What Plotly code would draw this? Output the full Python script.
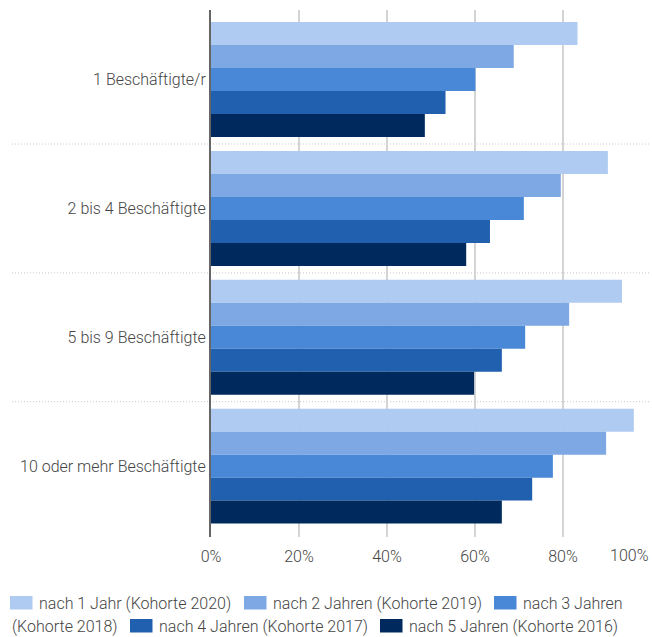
import plotly.graph_objects as go

categories = ["1 Beschäftigte/r", "2 bis 4 Beschäftigte", "5 bis 9 Beschäftigte", "10 oder mehr Beschäftigte"]
series_names = [
    "nach 1 Jahr (Kohorte 2020)",
    "nach 2 Jahren (Kohorte 2019)",
    "nach 3 Jahren (Kohorte 2018)",
    "nach 4 Jahren (Kohorte 2017)",
    "nach 5 Jahren (Kohorte 2016)",
]
nach_1_jahr = [83.3, 90.2, 93.4, 96.1]
nach_2_jahren = [68.8, 79.5, 81.4, 89.8]
nach_3_jahren = [60.1, 71.1, 71.4, 77.7]
nach_4_jahren = [53.3, 63.4, 66.1, 73.0]
nach_5_jahren = [48.6, 58.0, 59.8, 66.1]
series_values = [nach_1_jahr, nach_2_jahren, nach_3_jahren, nach_4_jahren, nach_5_jahren]
colors = ["#b0cbf2", "#7ea8e3", "#4888d6", "#2060ae", "#002a5d"]
tick_vals = [0, 20, 40, 60, 80, 100]
tick_text = ["0%", "20%", "40%", "60%", "80%", "100%"]

W, H = 652, 637
ML, MR, MT, MB = 211, 1, 10, 100
PW, PH = W - ML - MR, H - MT - MB

def px(x):
    return (x - ML) / PW

def py(y):
    return (H - MB - y) / PH

FONT = "Roboto, Arial, sans-serif"
TXT = "#444444"
FS = 16
FW = 300

def f():
    return dict(family=FONT, size=FS, color=TXT, weight=FW)

fig = go.Figure()
for name, vals, col in zip(series_names, series_values, colors):
    fig.add_trace(go.Bar(
        y=categories, x=vals, name=name, orientation="h",
        marker=dict(color=col, line=dict(width=0)),
        showlegend=False, hoverinfo="x+name",
    ))

shapes = []
# dotted category separators
for i in range(len(categories) - 1):
    shapes.append(dict(type="line", xref="paper", yref="y",
                       x0=px(12), x1=px(651), y0=i + 0.5, y1=i + 0.5,
                       line=dict(color="#c8c8c8", width=1, dash="1px,2px"), layer="below"))

annotations = [dict(text="100%", xref="paper", yref="paper", x=1.0, y=py(555),
                    xanchor="right", yanchor="middle", showarrow=False, font=f())]

# custom legend (wrapping like the reference)
legend_items = [
    (0, 10, 603, series_names[0]),
    (1, 244, 603, series_names[1]),
    (2, 494, 603, "nach 3 Jahren"),
    (3, 130, 626, series_names[3]),
    (4, 380, 626, series_names[4]),
]
for idx, x0, yc, label in legend_items:
    shapes.append(dict(type="rect", xref="paper", yref="paper",
                       x0=px(x0), x1=px(x0 + 22.5), y0=py(yc - 7), y1=py(yc + 6.5),
                       fillcolor=colors[idx], line=dict(width=0)))
    annotations.append(dict(text=label, xref="paper", yref="paper",
                            x=px(x0 + 27), y=py(yc), xanchor="left", yanchor="middle",
                            showarrow=False, font=f()))
annotations.append(dict(text="(Kohorte 2018)", xref="paper", yref="paper",
                        x=px(10), y=py(626), xanchor="left", yanchor="middle",
                        showarrow=False, font=f()))

fig.update_layout(
    width=W, height=H,
    margin=dict(l=ML, r=MR, t=MT, b=MB, pad=0),
    paper_bgcolor="white", plot_bgcolor="white",
    barmode="group", bargap=0.108, bargroupgap=0,
    font=f(),
    xaxis=dict(range=[0, 100], tickvals=tick_vals,
               ticktext=tick_text[:-1] + [""],
               showgrid=True, gridcolor="#d4d4d4", gridwidth=1.5,
               zeroline=False, showline=False, ticks="", ticklabelstandoff=8,
               tickfont=f(), fixedrange=True),
    yaxis=dict(categoryorder="array", categoryarray=categories,
               range=[3.55, -0.54], showgrid=False, zeroline=False,
               showline=True, linecolor="#666666", linewidth=2,
               ticks="", ticklabelstandoff=0,
               tickfont=f(), fixedrange=True),
    shapes=shapes, annotations=annotations,
    showlegend=False,
)

fig.write_html("out.html")
